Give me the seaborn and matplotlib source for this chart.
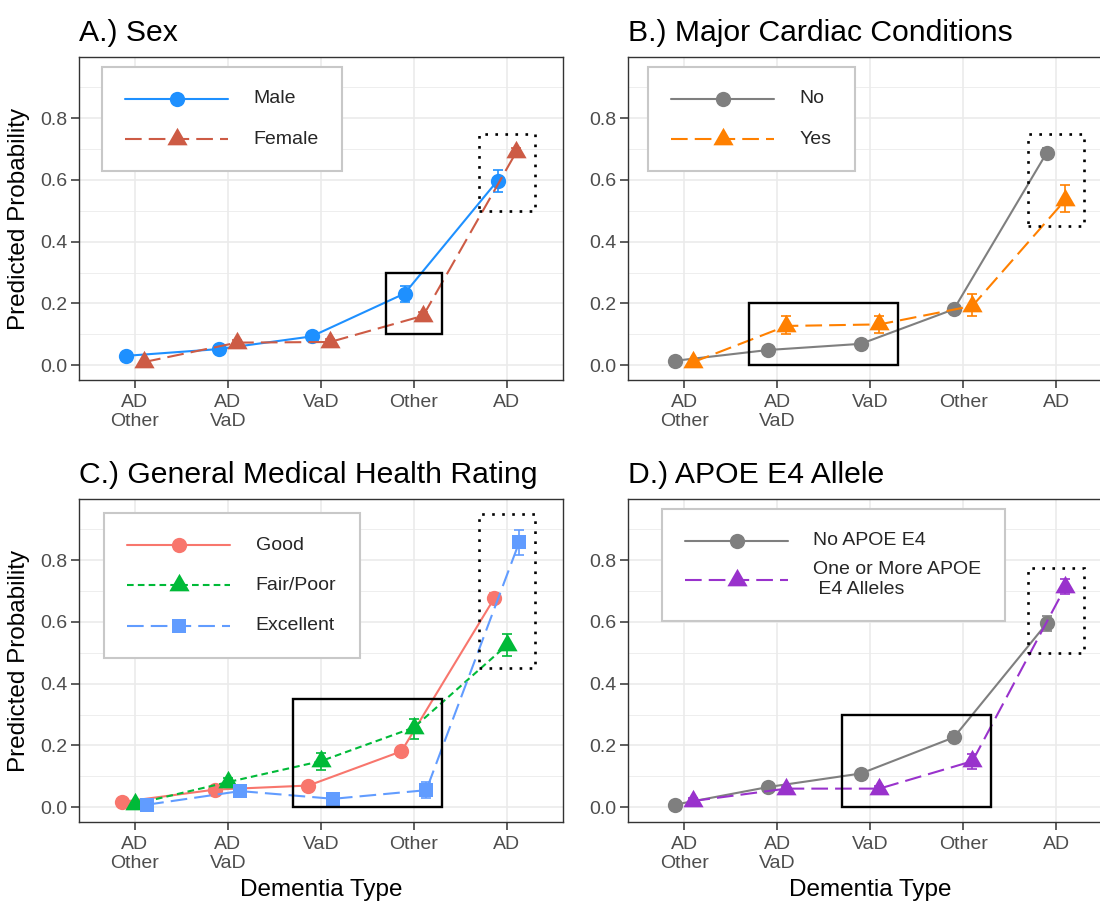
import numpy as np
import pandas as pd
import matplotlib
matplotlib.use("Agg")
import matplotlib.pyplot as plt
from matplotlib.patches import Rectangle
from matplotlib.lines import Line2D
from matplotlib.ticker import MultipleLocator, FormatStrFormatter
import seaborn as sns

# ---------------- data ----------------
categories = ["AD\nOther", "AD\nVaD", "VaD", "Other", "AD"]

# A.) Sex
sex_groups = ["Male", "Female"]
male_p = [0.030, 0.052, 0.093, 0.232, 0.598]
male_lo = [0.022, 0.045, 0.083, 0.205, 0.562]
male_hi = [0.038, 0.060, 0.103, 0.258, 0.633]
female_p = [0.010, 0.073, 0.075, 0.160, 0.690]
female_lo = [0.005, 0.065, 0.066, 0.148, 0.676]
female_hi = [0.015, 0.081, 0.084, 0.172, 0.704]

# B.) Major Cardiac Conditions
cardiac_groups = ["No", "Yes"]
card_no_p = [0.014, 0.049, 0.069, 0.181, 0.689]
card_no_lo = [0.009, 0.043, 0.062, 0.170, 0.675]
card_no_hi = [0.019, 0.055, 0.076, 0.192, 0.703]
card_yes_p = [0.010, 0.127, 0.132, 0.192, 0.536]
card_yes_lo = [0.004, 0.100, 0.103, 0.159, 0.495]
card_yes_hi = [0.016, 0.159, 0.160, 0.229, 0.585]

# C.) General Medical Health Rating
health_groups = ["Good", "Fair/Poor", "Excellent"]
good_p = [0.017, 0.057, 0.070, 0.181, 0.678]
good_lo = [0.012, 0.050, 0.062, 0.168, 0.662]
good_hi = [0.022, 0.064, 0.078, 0.194, 0.694]
fair_p = [0.010, 0.081, 0.149, 0.258, 0.525]
fair_lo = [0.004, 0.068, 0.120, 0.220, 0.490]
fair_hi = [0.016, 0.094, 0.175, 0.285, 0.560]
exc_p = [0.008, 0.052, 0.027, 0.055, 0.859]
exc_lo = [0.002, 0.040, 0.017, 0.030, 0.816]
exc_hi = [0.014, 0.064, 0.037, 0.083, 0.899]

# D.) APOE E4 Allele
apoe_groups = ["No APOE E4", "One or More APOE\n E4 Alleles"]
apoe_no_p = [0.008, 0.065, 0.109, 0.226, 0.596]
apoe_no_lo = [0.003, 0.057, 0.098, 0.210, 0.572]
apoe_no_hi = [0.013, 0.073, 0.120, 0.242, 0.620]
apoe_yes_p = [0.020, 0.060, 0.060, 0.149, 0.714]
apoe_yes_lo = [0.012, 0.052, 0.050, 0.125, 0.690]
apoe_yes_hi = [0.028, 0.068, 0.070, 0.172, 0.740]

# highlight boxes: (first category index, last category index, ymin, ymax)
box_solid_A = (3, 3, 0.10, 0.30)
box_dot_A = (4, 4, 0.50, 0.75)
box_solid_B = (1, 2, 0.00, 0.20)
box_dot_B = (4, 4, 0.45, 0.75)
box_solid_C = (2, 3, 0.00, 0.35)
box_dot_C = (4, 4, 0.45, 0.95)
box_solid_D = (2, 3, 0.00, 0.30)
box_dot_D = (4, 4, 0.50, 0.775)


def make_df(groups, ps, los, his):
    rows = []
    for g, p, lo, hi in zip(groups, ps, los, his):
        for c, pv, lv, hv in zip(categories, p, lo, hi):
            rows.append({"type": c, "group": g, "p": pv, "lo": lv, "hi": hv})
    return pd.DataFrame(rows)


# ---------------- style ----------------
sns.set_style("white")
plt.rcParams["font.family"] = ["Liberation Sans", "DejaVu Sans"]

W, H = 1100, 902
fig = plt.figure(figsize=(W / 100, H / 100), dpi=100)

# triangle like R's pch 17 (centroid at the data point)
TRI = [(0, 1.555), (-1.347, -0.778), (1.347, -0.778)]
SOLID = "-"
DASHED = (0, (8, 3.4))
DOTTED = (0, (3.2, 2.0))

marker_sizes = {"o": 11.0, "s": 10.4, "tri": 16.8}

panels = [
    dict(title="A.) Sex", groups=sex_groups,
         df=make_df(sex_groups, [male_p, female_p], [male_lo, female_lo], [male_hi, female_hi]),
         colors=["#1E90FF", "#CD5B45"], markers=["o", "tri"], ls=[SOLID, DASHED],
         pos=[79, 57.3], leg=(0.0476, 0.970), boxes=[box_solid_A, box_dot_A],
         ylabel="Predicted Probability", xlabel=None),
    dict(title="B.) Major Cardiac Conditions", groups=cardiac_groups,
         df=make_df(cardiac_groups, [card_no_p, card_yes_p], [card_no_lo, card_yes_lo], [card_no_hi, card_yes_hi]),
         colors=["#7F7F7F", "#FF8000"], markers=["o", "tri"], ls=[SOLID, DASHED],
         pos=[628.3, 57.3], leg=(0.040, 0.970), boxes=[box_solid_B, box_dot_B],
         ylabel=None, xlabel=None),
    dict(title="C.) General Medical Health Rating", groups=health_groups,
         df=make_df(health_groups, [good_p, fair_p, exc_p], [good_lo, fair_lo, exc_lo], [good_hi, fair_hi, exc_hi]),
         colors=["#F8766D", "#00BA38", "#619CFF"], markers=["o", "tri", "s"], ls=[SOLID, DOTTED, DASHED],
         pos=[79, 499.3], leg=(0.0517, 0.9566), boxes=[box_solid_C, box_dot_C],
         ylabel="Predicted Probability", xlabel="Dementia Type"),
    dict(title="D.) APOE E4 Allele", groups=apoe_groups,
         df=make_df(apoe_groups, [apoe_no_p, apoe_yes_p], [apoe_no_lo, apoe_yes_lo], [apoe_no_hi, apoe_yes_hi]),
         colors=["#7F7F7F", "#9932CC"], markers=["o", "tri"], ls=[SOLID, DASHED],
         pos=[628.3, 499.3], leg=(0.069, 0.970), boxes=[box_solid_D, box_dot_D],
         ylabel=None, xlabel="Dementia Type"),
]

AX_W, AX_H = 483.7, 322.5
LW = 1.5

for pn in panels:
    x0, ytop = pn["pos"]
    ax = fig.add_axes([x0 / W, (H - ytop - AX_H) / H, AX_W / W, AX_H / H])
    groups = pn["groups"]
    n = len(groups)
    mk = [TRI if m == "tri" else m for m in pn["markers"]]
    dodge = 0.2 if n == 2 else 0.2667
    sns.pointplot(data=pn["df"], x="type", y="p", hue="group", order=categories,
                  hue_order=groups, palette=pn["colors"], markers=mk,
                  linestyles=pn["ls"], dodge=dodge, errorbar=None, legend=False,
                  ax=ax, linewidth=LW, markersize=10.8, markeredgewidth=0)
    lines = ax.lines[:n]
    handles = []
    for line, g, m, ls, col in zip(lines, groups, pn["markers"], pn["ls"], pn["colors"]):
        line.set_markersize(marker_sizes[m])
        line.set_zorder(3)
        sub = pn["df"][pn["df"]["group"] == g].set_index("type").loc[categories]
        xs = np.asarray(line.get_xdata(), dtype=float)
        yv = sub["p"].to_numpy()
        ax.errorbar(xs, yv, yerr=[yv - sub["lo"].to_numpy(), sub["hi"].to_numpy() - yv],
                    fmt="none", ecolor=col, elinewidth=1.2, capsize=3.6, capthick=1.2, zorder=2.5)
        handles.append(Line2D([], [], color=col, lw=LW, ls=ls,
                              marker=(TRI if m == "tri" else m),
                              markersize=marker_sizes[m], markeredgewidth=0))

    # highlight boxes
    for i, (c0, c1, y0, y1) in enumerate(pn["boxes"]):
        if i == 0:
            r = Rectangle((c0 - 0.3, y0), (c1 - c0) + 0.6, y1 - y0, fill=False,
                          edgecolor="black", linewidth=1.7, zorder=5)
        else:
            r = Rectangle((c0 - 0.3, y0), (c1 - c0) + 0.6, y1 - y0, fill=False,
                          edgecolor="black", linewidth=1.9, linestyle=(0, (1, 2.8)),
                          capstyle="butt", zorder=5)
        ax.add_patch(r)

    ax.set_xlim(-0.6, 4.6)
    ax.set_ylim(-0.0475, 0.9975)
    ax.set_xticks(range(len(categories)))
    ax.set_xticklabels(categories)
    ax.yaxis.set_major_locator(MultipleLocator(0.2))
    ax.yaxis.set_minor_locator(MultipleLocator(0.1))
    ax.yaxis.set_major_formatter(FormatStrFormatter("%.1f"))
    ax.set_axisbelow(True)
    ax.grid(True, which="major", axis="both", color="#EBEBEB", linewidth=1.2)
    ax.grid(True, which="minor", axis="y", color="#EBEBEB", linewidth=0.6)
    ax.tick_params(which="minor", length=0)
    ax.tick_params(axis="both", which="major", length=5.5, width=1.1, color="#333333",
                   labelcolor="#4D4D4D", labelsize=14)
    ax.tick_params(axis="x", pad=4.5)
    ax.tick_params(axis="y", pad=3)
    ax.tick_params(bottom=True, left=True)
    for s in ax.spines.values():
        s.set_visible(True)
        s.set_color("#333333")
        s.set_linewidth(1.0)

    ax.set_title(pn["title"], loc="left", fontsize=21.7, pad=12, color="black")
    if pn["ylabel"]:
        ax.set_ylabel(pn["ylabel"], fontsize=17.5, color="black", labelpad=7)
    else:
        ax.set_ylabel("")
    if pn["xlabel"]:
        ax.set_xlabel(pn["xlabel"], fontsize=17.5, color="black", labelpad=4.5)
    else:
        ax.set_xlabel("")

    multiline = "\n" in groups[-1]
    leg = ax.legend(handles, groups, loc="upper left", bbox_to_anchor=pn["leg"],
                    borderaxespad=0, fontsize=14, handlelength=5.3, handletextpad=1.3,
                    borderpad=1.2,
                    labelspacing=0.62 if multiline else 1.2,
                    fancybox=False, framealpha=1, numpoints=1)
    leg.get_frame().set_edgecolor("#C8C8C8")
    leg.get_frame().set_linewidth(1.5)
    for col in leg._legend_handle_box.get_children():
        for row in col.get_children():
            row.align = "center"

fig.savefig("out.png", dpi=100)
